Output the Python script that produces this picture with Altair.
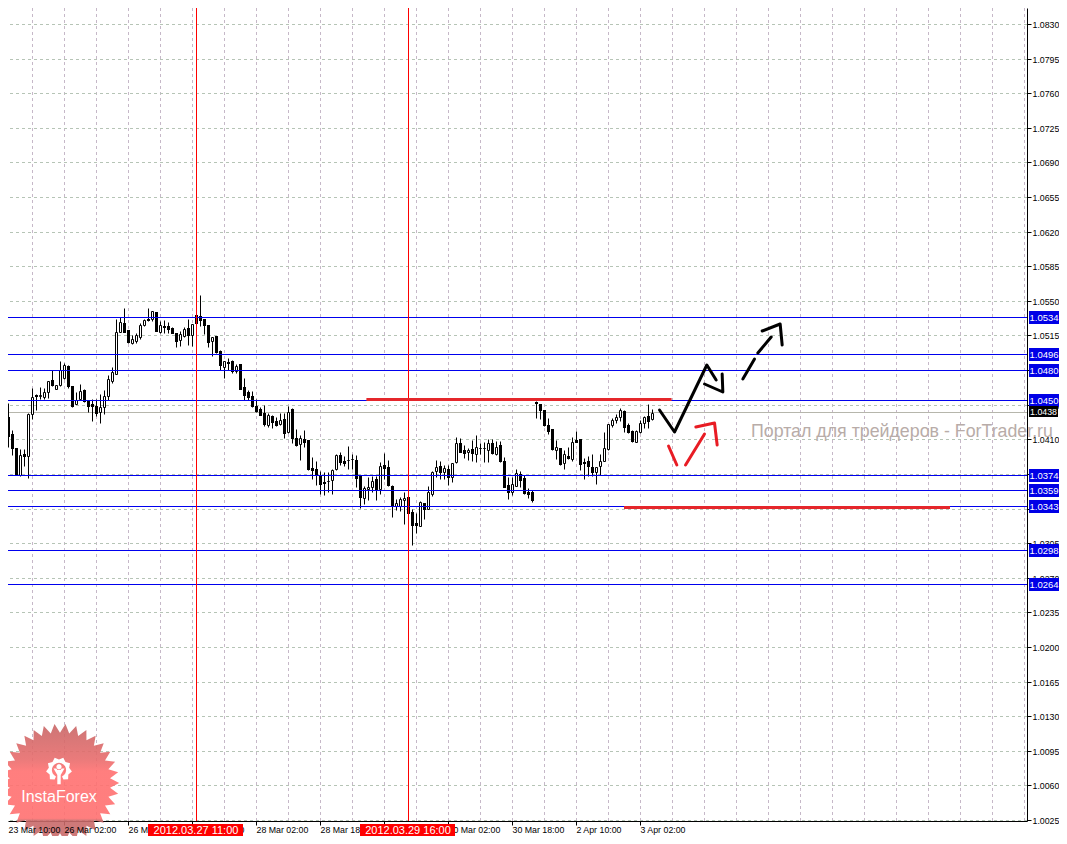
import math
import altair as alt
import pandas as pd

FONT = "Liberation Sans"

# candle values in pips (1 pip = 0.0001)
highs = [10414,10442,10447,10419,10401,10400,10400,10437,10462,10456,
         10463,10462,10469,10480,10465,10489,10487,10485,10464,10458,
         10466,10461,10450,10451,10451,10456,10460,10475,10483,10532,
         10534,10543,10521,10515,10517,10528,10532,10543,10540,10539,
         10530,10531,10529,10524,10518,10520,10524,10532,10527,10536,
         10556,10532,10526,10513,10514,10500,10489,10492,10490,10486,
         10486,10472,10460,10459,10451,10443,10445,10437,10435,10433,
         10437,10437,10444,10442,10420,10414,10419,10409,10392,10388,
         10378,10377,10377,10380,10395,10397,10393,10403,10395,10394,
         10373,10363,10372,10373,10373,10387,10396,10389,10364,10350,
         10352,10357,10352,10339,10335,10348,10346,10363,10378,10389,
         10388,10384,10384,10386,10412,10411,10404,10401,10409,10414,
         10406,10407,10410,10410,10408,10408,10392,10372,10372,10380,
         10378,10374,10361,10359,10449,10446,10440,10432,10420,10409,
         10401,10399,10402,10412,10418,10410,10391,10393,10395,10382,
         10395,10417,10425,10432,10436,10442,10440,10426,10419,10419,
         10430,10434,10446,10441]
lows = [10385,10405,10402,10394,10374,10373,10383,10371,10431,10440,
        10451,10451,10452,10464,10461,10464,10471,10462,10443,10446,
        10451,10448,10438,10428,10434,10426,10436,10450,10467,10476,
        10519,10519,10507,10506,10507,10511,10525,10530,10530,10520,
        10517,10518,10518,10517,10503,10504,10513,10505,10504,10527,
        10525,10516,10503,10494,10497,10480,10472,10480,10477,10477,
        10461,10450,10450,10443,10438,10435,10423,10422,10421,10423,
        10424,10411,10416,10406,10403,10389,10402,10379,10370,10364,
        10355,10354,10357,10355,10379,10384,10383,10380,10380,10362,
        10341,10345,10349,10357,10349,10355,10370,10363,10331,10338,
        10337,10324,10333,10303,10315,10322,10329,10339,10353,10372,
        10370,10370,10364,10367,10386,10397,10391,10389,10388,10387,
        10395,10387,10387,10395,10394,10387,10362,10350,10354,10363,
        10362,10355,10351,10347,10432,10431,10423,10415,10399,10390,
        10384,10380,10390,10388,10407,10379,10370,10373,10373,10365,
        10374,10388,10399,10422,10426,10429,10417,10416,10407,10407,
        10416,10421,10421,10430]
body_top = [10406,10432,10433,10415,10401,10394,10395,10436,10453,10455,
            10455,10458,10469,10470,10465,10480,10485,10484,10464,10450,
            10459,10460,10450,10446,10444,10443,10454,10471,10478,10519,
            10529,10528,10521,10511,10515,10526,10531,10532,10540,10539,
            10526,10525,10525,10523,10518,10516,10522,10523,10527,10536,
            10535,10532,10526,10513,10514,10499,10489,10488,10489,10484,
            10486,10463,10458,10454,10444,10441,10437,10435,10434,10429,
            10430,10431,10438,10441,10411,10411,10410,10409,10381,10380,
            10374,10367,10368,10379,10394,10394,10388,10389,10390,10389,
            10373,10361,10362,10368,10370,10383,10384,10382,10363,10346,
            10350,10351,10352,10336,10325,10347,10346,10357,10377,10382,
            10383,10381,10380,10386,10406,10406,10399,10399,10400,10402,
            10401,10401,10406,10406,10402,10404,10388,10364,10365,10376,
            10375,10371,10357,10357,10448,10446,10440,10424,10420,10402,
            10401,10395,10393,10407,10409,10410,10387,10388,10382,10382,
            10388,10401,10425,10430,10433,10440,10439,10424,10418,10418,
            10426,10433,10434,10437]
body_bot = [10386,10405,10413,10401,10374,10374,10393,10393,10436,10454,
            10454,10453,10458,10465,10461,10465,10472,10464,10444,10446,
            10451,10449,10444,10444,10437,10438,10443,10454,10469,10476,
            10519,10519,10508,10507,10509,10513,10526,10531,10532,10520,
            10519,10524,10522,10518,10509,10510,10514,10515,10515,10528,
            10531,10526,10508,10509,10498,10485,10483,10487,10479,10479,
            10461,10455,10453,10444,10439,10435,10425,10424,10427,10424,
            10425,10416,10417,10411,10404,10405,10407,10380,10379,10374,
            10365,10366,10368,10369,10380,10387,10386,10389,10390,10371,
            10352,10351,10360,10362,10360,10360,10381,10364,10343,10343,
            10343,10349,10335,10323,10323,10322,10340,10340,10355,10378,
            10377,10377,10372,10372,10387,10397,10396,10397,10396,10395,
            10401,10401,10399,10396,10395,10388,10362,10357,10357,10363,
            10369,10356,10355,10349,10447,10440,10424,10418,10400,10399,
            10385,10386,10391,10390,10407,10385,10386,10383,10377,10377,
            10383,10388,10400,10424,10430,10433,10422,10417,10408,10407,
            10417,10426,10429,10431]
kinds = ("WWBBBWBWWB" "WWWBWWWBBW" "WBBBBWWWWW" "WBBWWWWBWB" "WBBBBWWBWB"
         "BBBWBBWBBW" "BBBBBBBWBB" "WBWBBWBBBB" "BBWWWBBWWB" "BWWWBWBBBW"
         "WWBBBWBWWW" "BWBWWBBWBW" "WWWBWBBBWW" "BBBBBBBBBW" "BWBWBBBBBW"
         "WWWWWWBBBW" "WWBW")

price_ticks = [round(1.0025 + 0.0035 * k, 4) for k in range(24)]
grid_bars = list(range(0, 257, 8))
time_bars = list(range(16, 161, 16))
time_label_bars = [2, 16, 32, 48, 64, 80, 96, 112, 128, 144, 160]
time_labels = ["23 Mar 10:00", "26 Mar 02:00", "26 Mar 18:00", "27 Mar 10:00", "28 Mar 02:00",
               "28 Mar 18:00", "29 Mar 10:00", "30 Mar 02:00", "30 Mar 18:00", "2 Apr 10:00", "3 Apr 02:00"]
levels = [1.0534, 1.0496, 1.0480, 1.0450, 1.0374, 1.0359, 1.0343, 1.0298, 1.0264]
level_labels = ["1.0534", "1.0496", "1.0480", "1.0450", "1.0374", "1.0359", "1.0343", "1.0298", "1.0264"]
bid_price = 1.0438
event_bars = [49, 102]
event_labels = ["2012.03.27 11:00", "2012.03.29 16:00"]
red_level_from = [91.6, 156.0]
red_level_to = [167.9, 237.5]
red_level_price = [1.0451, 1.0342]

arrow_group = ["a","a","a","a","b","b","b","c","c","d","d","e","e","e","f","f","g","g","h","h","h"]
arrow_colour = ["k"]*14 + ["r"]*7
arrow_bar = [164.88,168.63,176.71,179.04, 176.13,180.71,180.54, 185.71,188.63, 189.46,192.79,
             190.54,195.04,195.54, 167.13,169.21, 171.38,176.13, 173.96,178.63,179.29]
arrow_price = [1.04396,1.04177,1.04851,1.04700, 1.04659,1.04578,1.04760, 1.04710,1.04912, 1.04969,1.05138,
               1.05195,1.05266,1.05054, 1.04032,1.03840, 1.03840,1.04154, 1.04228,1.04269,1.04046]

candles = pd.DataFrame({
    "i": range(len(highs)),
    "h": [v / 1e4 for v in highs], "l": [v / 1e4 for v in lows],
    "t": [v / 1e4 for v in body_top], "b": [v / 1e4 for v in body_bot],
    "k": list(kinds),
})

xs = alt.Scale(domain=[2, 256.75], nice=False, zero=False)
ys = alt.Scale(domain=[1.002397, 1.084618], nice=False, zero=False, round=True)
xax = alt.Axis(values=time_bars, labels=False, ticks=True, tickSize=4, tickColor="black",
               domainColor="black", grid=False, title=None)
yax = alt.Axis(orient="right", values=price_ticks, format=".4f", tickSize=4, tickColor="black",
               domainColor="black", grid=False, labelFont=FONT, labelFontSize=8.8, labelColor="black",
               labelPadding=1, labelOverlap=False, title=None)

X = lambda f: alt.X(f, type="quantitative", scale=xs, axis=xax)
Y = lambda f: alt.Y(f, type="quantitative", scale=ys, axis=yax)

v_grid = alt.Chart(pd.DataFrame({"g": grid_bars})).mark_rule(
    color="#c6b8c8", strokeDash=[3, 3], strokeWidth=1, xOffset=0.5, clip=True).encode(x=X("g"))
h_grid = alt.Chart(pd.DataFrame({"p": price_ticks})).mark_rule(
    color="#b6c4b6", strokeDash=[3, 3], strokeWidth=1, yOffset=0.5).encode(y=Y("p"))

bid = alt.Chart(pd.DataFrame({"p": [bid_price]})).mark_rule(color="#b6b6ac", strokeWidth=1, yOffset=0.5).encode(y=Y("p"))

wicks = alt.Chart(candles).mark_rule(color="black", strokeWidth=1, xOffset=0.5, yOffset=0.5, y2Offset=0.5, clip=True).encode(
    x=X("i"), y=Y("h"), y2=alt.Y2("l"))
black = alt.Chart(candles[candles.k == "B"]).mark_rect(
    fill="black", xOffset=-1, x2Offset=2, yOffset=0, y2Offset=1, clip=True
).encode(x=X("i"), x2=alt.X2("i"), y=Y("t"), y2=alt.Y2("b"))
white = alt.Chart(candles[candles.k == "W"]).mark_rect(
    fill="white", stroke="black", strokeWidth=1, xOffset=-0.5, x2Offset=1.5, yOffset=0.5, y2Offset=0.5, clip=True
).encode(x=X("i"), x2=alt.X2("i"), y=Y("t"), y2=alt.Y2("b"))

level_df = pd.DataFrame({"p": levels, "s": level_labels})
level_rules = alt.Chart(level_df).mark_rule(color="#0000ee", strokeWidth=1, yOffset=0.5).encode(y=Y("p"))
event_df = pd.DataFrame({"i": event_bars, "s": event_labels})
event_rules = alt.Chart(event_df).mark_rule(color="#ff0000", strokeWidth=1, xOffset=0.5).encode(x=X("i"))

red_df = pd.DataFrame({"a": red_level_from, "b": red_level_to, "p": red_level_price})
red_levels = alt.Chart(red_df).mark_rule(color="#e5262b", strokeWidth=3, yOffset=0.5).encode(
    x=X("a"), x2=alt.X2("b"), y=Y("p"))

arrow_df = pd.DataFrame({"g": arrow_group, "c": arrow_colour, "i": arrow_bar, "p": arrow_price, "o": range(len(arrow_bar))})
arrows_k = alt.Chart(arrow_df[arrow_df.c == "k"]).mark_line(color="black", strokeWidth=3, strokeCap="round", strokeJoin="round").encode(
    x=X("i"), y=Y("p"), detail="g:N", order="o:Q")
arrows_r = alt.Chart(arrow_df[arrow_df.c == "r"]).mark_line(color="#e81c24", strokeWidth=3, strokeCap="round", strokeJoin="round").encode(
    x=X("i"), y=Y("p"), detail="g:N", order="o:Q")

# price tags at the right edge
tag_boxes = alt.Chart(level_df).mark_rect(fill="#0000e6", yOffset=-6, y2Offset=7).encode(
    x=alt.value(1021), x2=alt.value(1051), y=Y("p"), y2=alt.Y2("p"))
tag_text = alt.Chart(level_df).mark_text(color="white", align="center", baseline="middle", font=FONT, fontSize=9.5, yOffset=0.5).encode(
    x=alt.value(1036), y=Y("p"), text="s:N")
bid_df = pd.DataFrame({"p": [bid_price], "s": ["1.0438"]})
bid_box = alt.Chart(bid_df).mark_rect(fill="black", yOffset=-6, y2Offset=5).encode(
    x=alt.value(1021), x2=alt.value(1050), y=Y("p"), y2=alt.Y2("p"))
bid_text = alt.Chart(bid_df).mark_text(color="white", align="center", baseline="middle", font=FONT, fontSize=8.8).encode(
    x=alt.value(1035.5), y=Y("p"), text="s:N")

# time labels and event tags below the axis
time_df = pd.DataFrame({"i": time_label_bars, "s": time_labels})
time_text = alt.Chart(time_df).mark_text(color="black", align="left", baseline="middle", font=FONT, fontSize=8.8, xOffset=0.5).encode(
    x=X("i"), y=alt.value(822), text="s:N")
event_box = alt.Chart(event_df).mark_rect(fill="#ff0000", xOffset=-48, x2Offset=47).encode(
    x=X("i"), x2=alt.X2("i"), y=alt.value(816), y2=alt.value(828))
event_text = alt.Chart(event_df).mark_text(color="white", align="center", baseline="middle", font=FONT, fontSize=11).encode(
    x=X("i"), y=alt.value(822.5), text="s:N")

watermark = alt.Chart(pd.DataFrame({"s": ["Портал для трейдеров - ForTrader.ru"]})).mark_text(
    color="#b8aca8", align="left", baseline="middle", font=FONT, fontSize=17.8
).encode(x=alt.value(743), y=alt.value(424), text="s:N")

# InstaForex badge
def star(n, inner):
    pts = []
    for k in range(2 * n):
        r = 1 if k % 2 == 0 else inner
        a = math.pi * k / n
        pts.append(f"{r * math.cos(a):.4f},{r * math.sin(a):.4f}")
    return "M" + "L".join(pts) + "Z"

def gear():
    # toothed ring, open at the bottom, with a small figure inside
    outer, inner = [], []
    n = 17
    for k in range(n):
        a = math.radians(115 + 310 * k / (n - 1))
        r = 1 if k % 2 == 1 else 0.8
        outer.append(f"{r * math.cos(a):.3f},{r * math.sin(a):.3f}")
    for k in range(n):
        a = math.radians(425 - 310 * k / (n - 1))
        inner.append(f"{0.55 * math.cos(a):.3f},{0.55 * math.sin(a):.3f}")
    head = []
    for k in range(16):
        a = 2 * math.pi * k / 16
        head.append(f"{0.2 * math.cos(a):.3f},{0.2 * math.sin(a) - 0.25:.3f}")
    return ("M" + "L".join(outer + inner) + "Z M" + "L".join(head)
            + "Z M-0.13,0 L0.13,0 L0.13,1.1 L-0.13,1.1 Z"
            + " M-0.42,-0.12 L-0.2,-0.12 L0,0.2 L0.2,-0.12 L0.42,-0.12 L0.13,0.38 L-0.13,0.38 Z")

one = pd.DataFrame({"a": [0]})
badge = alt.Chart(one).mark_point(
    shape=star(34, 0.85), size=14000, filled=True, opacity=0.9,
    fill=alt.LinearGradient(gradient="linear", x1=0, x2=0, y1=0, y2=1,
                            stops=[alt.GradientStop(color="#c76666", offset=0),
                                   alt.GradientStop(color="#e86c6c", offset=0.3),
                                   alt.GradientStop(color="#ff7070", offset=0.4),
                                   alt.GradientStop(color="#ff7070", offset=0.8),
                                   alt.GradientStop(color="#c96a6a", offset=0.82),
                                   alt.GradientStop(color="#c96a6a", offset=1)])
).encode(x=alt.value(52), y=alt.value(775))
badge_gear = alt.Chart(one).mark_point(shape=gear(), size=676, filled=True, fill="white", opacity=1).encode(
    x=alt.value(51), y=alt.value(762))
badge_text = alt.Chart(pd.DataFrame({"s": ["InstaForex"]})).mark_text(
    color="white", align="center", baseline="middle", font=FONT, fontSize=16
).encode(x=alt.value(51), y=alt.value(789), text="s:N")

chart = alt.layer(
    v_grid, h_grid, bid, wicks, black, white, level_rules, event_rules, red_levels, arrows_k, arrows_r,
    badge, badge_gear, badge_text, time_text, tag_boxes, tag_text, bid_box, bid_text,
    event_box, event_text, watermark
).properties(
    width=1019, height=813, background="white",
    padding={"left": 0, "top": 0, "right": 32, "bottom": 15},
    autosize=alt.AutoSizeParams(type="none"),
).configure_view(stroke=None)

chart.save("out.html", embed_options={"renderer": "svg", "actions": False})
